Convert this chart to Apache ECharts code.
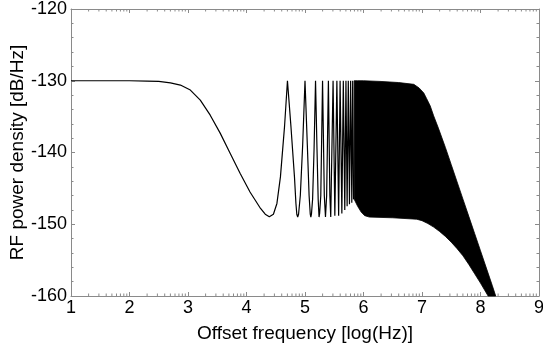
<!DOCTYPE html>
<html>
<head>
<meta charset="utf-8">
<script src="https://cdn.jsdelivr.net/npm/echarts@6/dist/echarts.min.js"></script>
<style>
html,body{margin:0;padding:0;background:#fff;}
#chart{width:543px;height:343px;}
</style>
</head>
<body>
<div id="chart"></div>
<script>
// Axis settings
const xMin = 1, xMax = 9;
const yMin = -160, yMax = -120;
const xTitle = 'Offset frequency [log(Hz)]';
const yTitle = 'RF power density [dB/Hz]';
// log-style minor tick offsets inside each decade
const xMinorOffsets = [0.301, 0.477, 0.602, 0.699, 0.778, 0.845, 0.903, 0.954];

// Resolved part of the spectrum
const lineX = [1.0, 1.5, 2.0, 2.3, 2.5, 2.7, 2.87, 3.04, 3.21, 3.38, 3.55, 3.72, 3.89, 4.06, 4.24, 4.32, 4.39,
  4.46, 4.52, 4.58, 4.65, 4.70, 4.76, 4.82, 4.845, 4.86, 4.875, 4.89,
  4.92, 4.96, 5.00, 5.04, 5.07, 5.09, 5.10, 5.11,
  5.13, 5.155, 5.18, 5.205, 5.225, 5.24, 5.25,
  5.27, 5.30, 5.33, 5.35,
  5.37, 5.40, 5.425, 5.44,
  5.48, 5.51, 5.545, 5.575, 5.60, 5.63, 5.655, 5.68, 5.70, 5.72, 5.74, 5.76, 5.78, 5.80, 5.815, 5.83];
const lineY = [-130, -130, -130, -130.05, -130.1, -130.3, -130.6, -131.3, -132.7, -134.8, -137.3, -140.1, -142.9, -145.5, -147.8, -148.6, -148.95,
  -148.6, -147.1, -143.4, -136.4, -130, -136.4, -143.4, -147.1, -148.6, -149, -148.6,
  -146, -139, -130, -139, -146, -148.6, -149, -148.6,
  -146.5, -139.5, -130, -139.5, -146.5, -149, -148.5,
  -146, -130, -146, -149,
  -146, -130, -146, -149,
  -130, -148.8, -130, -148.8, -130, -148.5, -130, -148, -130, -147.5, -130, -147.2, -130, -147, -130, -146.5];

// Unresolved (dense) part: envelope of the oscillation
const upperX = [5.84, 5.9, 6.0, 6.3, 6.6, 6.86, 6.95, 7.03, 7.08, 7.14, 7.2, 7.28, 7.4, 7.5, 7.6, 7.7, 7.8, 7.9, 8.0, 8.1, 8.2, 8.26];
const upperY = [-130, -130, -130, -130.1, -130.25, -130.5, -131.0, -131.7, -132.5, -133.5, -134.9, -136.6, -139.3, -141.7, -144.1, -146.5, -148.9, -151.3, -153.7, -156.1, -158.5, -160];
const lowerX = [5.84, 5.9, 5.96, 6.02, 6.1, 6.5, 6.91, 7.0, 7.1, 7.2, 7.3, 7.4, 7.5, 7.6, 7.7, 7.8, 7.9, 8.0, 8.13];
const lowerY = [-146.5, -147.5, -148.3, -148.8, -149.0, -149.1, -149.3, -149.5, -149.9, -150.4, -151.0, -151.7, -152.5, -153.4, -154.4, -155.6, -156.9, -158.2, -160];

const lineData = lineX.map((x, i) => [x, lineY[i]]);
const minorTicks = [];
for (let d = xMin; d < xMax; d++) {
  xMinorOffsets.forEach(o => minorTicks.push([d + o, yMin]));
}

const axisColor = '#8a8a8a';
const font = "'Liberation Sans', Arial, Helvetica, sans-serif";

const chart = echarts.init(document.getElementById('chart'), null, {renderer: 'canvas'});
chart.setOption({
  animation: false,
  backgroundColor: '#fff',
  grid: {left: 71, right: 4, top: 9, bottom: 47, containLabel: false, outerBoundsMode: 'none'},
  xAxis: [{
    type: 'value', min: xMin, max: xMax, interval: 1, position: 'bottom',
    name: xTitle, nameLocation: 'middle', nameGap: 28, nameMoveOverlap: false,
    nameTextStyle: {fontFamily: font, fontSize: 19, color: '#000'},
    axisLine: {show: true, lineStyle: {color: axisColor, width: 1}},
    axisTick: {show: true, inside: true, length: 4, lineStyle: {color: axisColor}},
    axisLabel: {show: true, margin: 3, fontFamily: font, fontSize: 18, color: '#000'},
    splitLine: {show: false}
  }, {
    type: 'value', min: xMin, max: xMax, interval: 1, position: 'top',
    axisLine: {show: true, onZero: false, lineStyle: {color: axisColor, width: 1}},
    axisTick: {show: true, inside: true, length: 4, lineStyle: {color: axisColor}},
    axisLabel: {show: false},
    splitLine: {show: false}
  }],
  yAxis: [{
    type: 'value', min: yMin, max: yMax, interval: 10, position: 'left',
    name: yTitle, nameLocation: 'middle', nameGap: 44, nameRotate: 90, nameMoveOverlap: false,
    nameTextStyle: {fontFamily: font, fontSize: 19, color: '#000'},
    axisLine: {show: true, onZero: false, lineStyle: {color: axisColor, width: 1}},
    axisTick: {show: true, inside: true, length: 4, lineStyle: {color: axisColor}},
    minorTick: {show: true, splitNumber: 5, length: 2.5, lineStyle: {color: axisColor}},
    axisLabel: {show: true, margin: 4, fontFamily: font, fontSize: 18, color: '#000'},
    splitLine: {show: false}
  }, {
    type: 'value', min: yMin, max: yMax, interval: 10, position: 'right',
    axisLine: {show: true, onZero: false, lineStyle: {color: axisColor, width: 1}},
    axisTick: {show: true, inside: true, length: 4, lineStyle: {color: axisColor}},
    minorTick: {show: true, splitNumber: 5, length: 2.5, lineStyle: {color: axisColor}},
    axisLabel: {show: false},
    splitLine: {show: false}
  }],
  series: [{
    type: 'custom',
    name: 'xMinorTicks',
    silent: true,
    clip: false,
    data: minorTicks,
    renderItem: function (params, api) {
      const pb = api.coord([api.value(0), yMin]);
      const pt = api.coord([api.value(0), yMax]);
      return {
        type: 'group',
        children: [
          {type: 'line', shape: {x1: pb[0], y1: pb[1], x2: pb[0], y2: pb[1] - 2.5}, style: {stroke: axisColor, lineWidth: 1}},
          {type: 'line', shape: {x1: pt[0], y1: pt[1], x2: pt[0], y2: pt[1] + 2.5}, style: {stroke: axisColor, lineWidth: 1}}
        ]
      };
    }
  }, {
    type: 'custom',
    name: 'band',
    silent: true,
    data: [[upperX[0], upperY[0]]],
    renderItem: function (params, api) {
      const pts = [];
      for (let i = 0; i < upperX.length; i++) pts.push(api.coord([upperX[i], upperY[i]]));
      for (let i = lowerX.length - 1; i >= 0; i--) pts.push(api.coord([lowerX[i], lowerY[i]]));
      return {type: 'polygon', shape: {points: pts}, style: {fill: '#000', stroke: '#000', lineWidth: 0.8}};
    }
  }, {
    type: 'line',
    name: 'spectrum',
    data: lineData,
    showSymbol: false,
    smooth: false,
    lineStyle: {color: '#000', width: 1.2},
    silent: true
  }]
});
</script>
</body>
</html>
